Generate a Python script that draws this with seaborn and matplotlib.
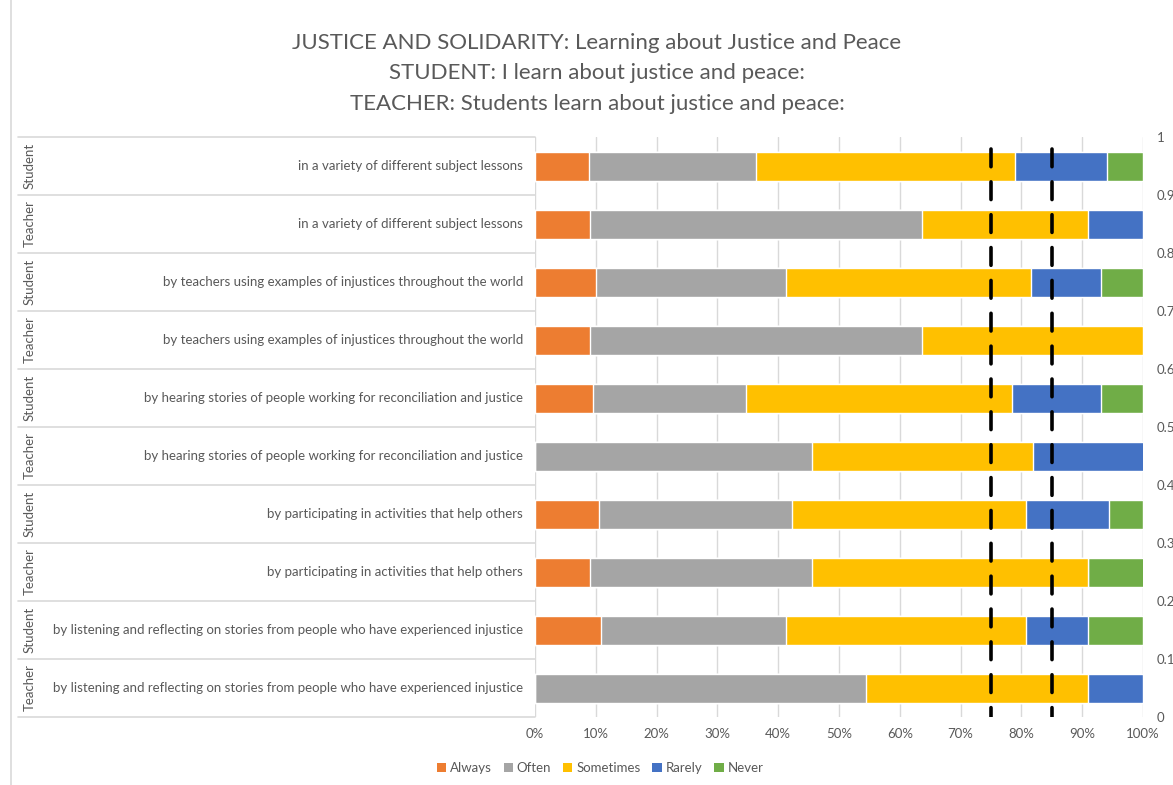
import matplotlib
matplotlib.use('Agg')
import matplotlib.pyplot as plt
import matplotlib.transforms as mtransforms
from matplotlib.patches import Patch
from matplotlib.lines import Line2D
import numpy as np
import pandas as pd
import seaborn as sns

# ---- data (percent of respondents) ----
groups = ["Student", "Teacher"] * 5
items = [
    "in a variety of different subject lessons",
    "in a variety of different subject lessons",
    "by teachers using examples of injustices throughout the world",
    "by teachers using examples of injustices throughout the world",
    "by hearing stories of people working for reconciliation and justice",
    "by hearing stories of people working for reconciliation and justice",
    "by participating in activities that help others",
    "by participating in activities that help others",
    "by listening and reflecting on stories from people who have experienced injustice",
    "by listening and reflecting on stories from people who have experienced injustice",
]
always = [8.9, 9.1, 10.1, 9.1, 9.5, 0.0, 10.6, 9.1, 10.8, 0.0]
often = [27.4, 54.5, 31.2, 54.5, 25.2, 45.5, 31.6, 36.4, 30.5, 54.5]
sometimes = [42.6, 27.3, 40.3, 36.4, 43.8, 36.4, 38.6, 45.5, 39.5, 36.4]
rarely = [15.2, 9.1, 11.5, 0.0, 14.6, 18.2, 13.6, 0.0, 10.2, 9.1]
never = [5.9, 0.0, 6.9, 0.0, 6.9, 0.0, 5.6, 9.1, 9.0, 0.0]

responses = ["Always", "Often", "Sometimes", "Rarely", "Never"]
colors = ["#ED7D31", "#A5A5A5", "#FFC000", "#4472C4", "#70AD47"]
thresholds = [75, 85]

title = ("JUSTICE AND SOLIDARITY: Learning about Justice and Peace\n"
         "STUDENT: I learn about justice and peace:\n"
         "TEACHER: Students learn about justice and peace:")

TEXT = "#595959"
GRID = "#D9D9D9"

df = pd.DataFrame({"row": [str(i) for i in range(len(items))],
                   "Always": always, "Often": often, "Sometimes": sometimes,
                   "Rarely": rarely, "Never": never})
cum = df[responses].cumsum(axis=1)
for r in responses:
    df[r + "_cum"] = cum[r]

sns.set_style("white")
plt.rcParams['font.family'] = ['Lato', 'DejaVu Sans']

W, H = 1173, 785
fig = plt.figure(figsize=(W / 100, H / 100), dpi=100)
x0, x1, ytop, ybot = 535, 1143, 137, 717
ax = fig.add_axes([x0 / W, 1 - ybot / H, (x1 - x0) / W, (ybot - ytop) / H])

order = list(df["row"])
# stacked bars: draw cumulative totals from the last segment back to the first
for r, c in reversed(list(zip(responses, colors))):
    sns.barplot(data=df, x=r + "_cum", y="row", order=order, orient="h",
                color=c, saturation=1, width=0.5, errorbar=None, ax=ax)

ax.set_xlim(0, 100)
ax.set_ylim(len(order) - 0.5, -0.5)
ax.set_xticks(np.arange(0, 101, 10))
ax.set_xticklabels([f"{v}%" for v in range(0, 101, 10)], color=TEXT, fontsize=9.5)
ax.set_yticks([])
ax.set_xlabel("")
ax.set_ylabel("")
ax.tick_params(axis='x', length=0, pad=8)
ax.grid(axis='x', color=GRID, linewidth=1)
ax.set_axisbelow(True)
for s in ax.spines.values():
    s.set_visible(False)

# left table: category text, group label, row separators
blend = mtransforms.blended_transform_factory(ax.transAxes, ax.transData)
left_edge = (18 - x0) / (x1 - x0)
for i, (g, t) in enumerate(zip(groups, items)):
    ax.text(-0.02, i, t, transform=blend, ha='right', va='center',
            fontsize=9.5, color=TEXT)
    ax.text((30 - x0) / (x1 - x0), i, g, transform=blend, ha='center',
            va='center', rotation=90, fontsize=9.5, color=TEXT)
for yb in np.arange(-0.5, len(order), 1.0):
    ax.plot([left_edge, 0], [yb, yb], transform=blend, color=GRID,
            linewidth=1.2, clip_on=False)

# secondary axis with threshold lines
ax2 = ax.twinx()
ax2.set_ylim(0, 1)
ax2.set_yticks(np.arange(0, 1.01, 0.1))
ax2.set_yticklabels(["0"] + [f"{v:.1f}" for v in np.arange(0.1, 0.95, 0.1)] + ["1"],
                    color=TEXT, fontsize=9.5)
ax2.tick_params(axis='y', length=0, pad=10)
for s in ax2.spines.values():
    s.set_visible(False)
for tx in thresholds:
    ax2.plot([tx, tx], [0.98, 0], color="black", linewidth=2.6,
             linestyle=(0, (4.9, 4.2)), dash_capstyle='round')

fig.text(597 / W, 1 - 33 / H, title, ha='center', va='top', fontsize=16,
         color=TEXT, linespacing=1.65)

handles = [Patch(facecolor=c, edgecolor='none') for c in colors]
fig.legend(handles, responses, loc='center', bbox_to_anchor=(600 / W, 1 - 768 / H),
           ncol=5, frameon=False, fontsize=9.5, handlelength=0.7, handleheight=0.7,
           handletextpad=0.3, columnspacing=0.9, labelcolor=TEXT)

# chart border on the left
fig.add_artist(Line2D([11 / W, 11 / W], [0, 1], color=GRID, linewidth=1.2))

fig.savefig("out.png", dpi=100)
